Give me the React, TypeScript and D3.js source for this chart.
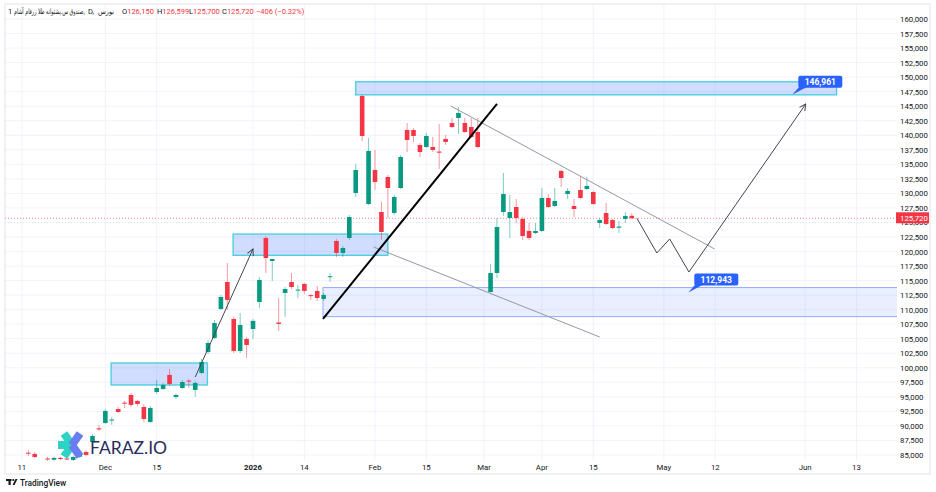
import React, { useEffect, useRef } from "react";
import * as d3 from "d3";

const W = 936;
const H = 492;

// daily bars: [open, high, low, close], null = no trading
const ohlc: ([number, number, number, number] | null)[] = [
  [85400, 85870, 84840, 85300],
  [85180, 85520, 84490, 84660],
  null,
  [84400, 84700, 84000, 84300],
  [84200, 84700, 84000, 84500],
  [84500, 84700, 84100, 84300],
  [84400, 84600, 84100, 84250],
  [84150, 84900, 84000, 84660],
  [84700, 85400, 84500, 85200],
  [85520, 85800, 84800, 85010],
  [87240, 88620, 86900, 88280],
  [89600, 90170, 89140, 89400],
  [90510, 92920, 90340, 92580],
  [91000, 91540, 90170, 91100],
  [92920, 93260, 92230, 92400],
  [94000, 94300, 93090, 93900],
  [95330, 95670, 93260, 93610],
  [94300, 94500, 93440, 93780],
  [93260, 93780, 90680, 91200],
  [90680, 93440, 90510, 93090],
  [95840, 97910, 95500, 96530],
  [96360, 97390, 96190, 97050],
  [98770, 99800, 96880, 97220],
  [94980, 95500, 94640, 95330],
  [96530, 97910, 96360, 97560],
  [97800, 98080, 96530, 97650],
  [96190, 97740, 94980, 97390],
  [99110, 101520, 98940, 101000],
  [102720, 104790, 102380, 104270],
  [105130, 108230, 104960, 107710],
  [110120, 112530, 109950, 112180],
  [114760, 118030, 109950, 111670],
  [108400, 108740, 102550, 102900],
  [102900, 109430, 102550, 107370],
  [104960, 105300, 101690, 103930],
  [106680, 108400, 104960, 108060],
  [111320, 115620, 110290, 115110],
  [122330, 122680, 116310, 118890],
  [118380, 118720, 114940, 118720],
  [107800, 112010, 106340, 107550],
  [112870, 113900, 108740, 113560],
  [114760, 116310, 113560, 113900],
  [113300, 114250, 112010, 113450],
  [114420, 114590, 112700, 113220],
  [112500, 112700, 111670, 112350],
  [113220, 114080, 111500, 112010],
  [111840, 112870, 111500, 112530],
  [115600, 116310, 114760, 115750],
  [121820, 122160, 119060, 119750],
  [119750, 120960, 119060, 120610],
  [122330, 126290, 121990, 125940],
  [130070, 135060, 129380, 134030],
  [146760, 146930, 139020, 139880],
  [128180, 139530, 128010, 137300],
  [134030, 137470, 130590, 131960],
  [126800, 128520, 121990, 123360],
  [132820, 133170, 125770, 130930],
  [126640, 129730, 126290, 129380],
  [130930, 136610, 130760, 136260],
  [140910, 142110, 137120, 139190],
  [140910, 141250, 138840, 139880],
  [138330, 138670, 136260, 137120],
  [137980, 140390, 137810, 139880],
  [137980, 139700, 137120, 137470],
  [137200, 141940, 134200, 137000],
  [139360, 140050, 138330, 138840],
  [142110, 142970, 141250, 141420],
  [142970, 144860, 140220, 143830],
  [142110, 142970, 140390, 140560],
  [141420, 142970, 139530, 139700],
  [140560, 142970, 137810, 137980],
  null,
  [113040, 117860, 112943, 116310],
  [116310, 125770, 115450, 124220],
  [126800, 133510, 126120, 129900],
  [125770, 129730, 122330, 126800],
  [127660, 129040, 124910, 125770],
  [125600, 125940, 121990, 122680],
  [123540, 124910, 121990, 122330],
  [123190, 124910, 123020, 123540],
  [123540, 130930, 123360, 129210],
  [129210, 129900, 127490, 127660],
  [127840, 130930, 127660, 128700],
  [133860, 134030, 131100, 132650],
  [129900, 130930, 129040, 130420],
  [127840, 129040, 125940, 127320],
  [130590, 133000, 129040, 129210],
  [130760, 132820, 130590, 131280],
  [130240, 130420, 128010, 128180],
  [124910, 125770, 124050, 125430],
  [126630, 128350, 124570, 124740],
  [125430, 125600, 123880, 124050],
  [124100, 125260, 123190, 124300],
  [125600, 126800, 124910, 126126],
  [126150, 126599, 125700, 125720],
];

const priceTicks = [
  85000, 87500, 90000, 92500, 95000, 97500, 100000, 102500, 105000, 107500,
  110000, 112500, 115000, 117500, 120000, 122500, 125000, 127500, 130000,
  132500, 135000, 137500, 140000, 142500, 145000, 147500, 150000, 152500,
  155000, 157500, 160000,
];

const timeLabels = ["11", "Dec", "15", "2026", "14", "Feb", "15", "Mar", "Apr", "15", "May", "12", "Jun", "13"];
const timeBars = [-1, 12, 20, 35, 43, 54, 62, 71, 80, 88, 99, 107, 121, 129];

const lastPrice = 125720;
const symbolName = "صندوق س.پشتوانه طلا زرفام آشام,";
const exchange = "بورس";

// drawings in (bar, price)
const zones = [
  { b0: 51, b1: 125.9, top: 149200, bottom: 146961, kind: "cyan" },
  { b0: 31.9, b1: 56, top: 123000, bottom: 119350, kind: "cyan" },
  { b0: 12.9, b1: 27.9, top: 100830, bottom: 97050, kind: "cyan" },
  { b0: 45.9, b1: 140, top: 113800, bottom: 108800, kind: "blue" },
];
const trendLine = [[45.9, 108400], [73, 145380]];
const grayLines = [
  [[65.8, 145040], [106.9, 120440]],
  [[53.8, 120780], [89, 105300]],
];
const leftArrow = [[26, 98420], [35, 120440]];
const pathArrow = [[94.8, 125720], [97.9, 119750], [99.9, 122160], [102.9, 116480], [121.1, 145380]];
const callouts = [
  { bar: 119, price: 146961 },
  { bar: 102.8, price: 112943 },
];

const UP = "#089981";
const DOWN = "#F23645";

const App = () => {
  const ref = useRef<SVGSVGElement>(null);

  useEffect(() => {
    const svg = d3.select(ref.current);
    svg.selectAll("*").remove();

    const paneL = 5, paneR = 897, paneT = 4, paneB = 461;
    const x = d3.scaleLinear().domain([0, 94]).range([28.3, 631.8]);
    const y = d3.scaleLinear().domain([85000, 160000]).range([455, 19]);
    const fmt = d3.format(",");

    svg.append("rect").attr("width", W).attr("height", H).attr("fill", "#fff");

    const defs = svg.append("defs");
    defs.append("clipPath").attr("id", "pane")
      .append("rect").attr("x", paneL).attr("y", paneT)
      .attr("width", paneR - paneL).attr("height", paneB - paneT);
    defs.append("marker").attr("id", "arr").attr("viewBox", "0 0 10 10")
      .attr("refX", 9).attr("refY", 5).attr("markerWidth", 8).attr("markerHeight", 8)
      .attr("orient", "auto-start-reverse").attr("markerUnits", "userSpaceOnUse")
      .append("path").attr("d", "M1,1 L9,5 L1,9").attr("fill", "none")
      .attr("stroke", "#434651").attr("stroke-width", 1.2);

    // grid
    svg.append("g").selectAll("line").data(priceTicks).join("line")
      .attr("x1", paneL).attr("x2", paneR)
      .attr("y1", (d) => y(d)).attr("y2", (d) => y(d))
      .attr("stroke", "#f0f3fa").attr("stroke-width", 1);
    svg.append("g").selectAll("line").data(timeBars).join("line")
      .attr("x1", (d) => x(d)).attr("x2", (d) => x(d))
      .attr("y1", paneT).attr("y2", paneB)
      .attr("stroke", "#f0f3fa").attr("stroke-width", 1);

    // frame
    svg.append("rect").attr("x", paneL).attr("y", paneT)
      .attr("width", 930 - paneL).attr("height", 474 - paneT)
      .attr("fill", "none").attr("stroke", "#e0e3eb");

    const pane = svg.append("g").attr("clip-path", "url(#pane)");

    // zones
    pane.selectAll("rect.zone").data(zones).join("rect").attr("class", "zone")
      .attr("x", (d) => x(d.b0)).attr("y", (d) => y(d.top))
      .attr("width", (d) => x(d.b1) - x(d.b0))
      .attr("height", (d) => y(d.bottom) - y(d.top))
      .attr("fill", (d) => (d.kind === "cyan" ? "rgba(41,98,255,0.22)" : "rgba(41,98,255,0.1)"))
      .attr("stroke", (d) => (d.kind === "cyan" ? "#4dd0e1" : "#94aaf5"))
      .attr("stroke-width", (d) => (d.kind === "cyan" ? 1.4 : 1));

    // last price line
    pane.append("line").attr("x1", paneL).attr("x2", paneR)
      .attr("y1", y(lastPrice)).attr("y2", y(lastPrice))
      .attr("stroke", DOWN).attr("stroke-opacity", 0.6)
      .attr("stroke-dasharray", "1,2");

    // candles
    const bars = ohlc.map((d, i) => ({ d, i })).filter((b) => b.d !== null) as { d: [number, number, number, number]; i: number }[];
    const cg = pane.append("g");
    cg.selectAll("line").data(bars).join("line")
      .attr("x1", (b) => x(b.i)).attr("x2", (b) => x(b.i))
      .attr("y1", (b) => y(b.d[1])).attr("y2", (b) => y(b.d[2]))
      .attr("stroke", (b) => (b.d[3] >= b.d[0] ? UP : DOWN))
      .attr("stroke-opacity", 0.5).attr("stroke-width", 1);
    cg.selectAll("rect").data(bars).join("rect")
      .attr("x", (b) => x(b.i) - 2.3).attr("width", 4.6)
      .attr("y", (b) => y(Math.max(b.d[0], b.d[3])))
      .attr("height", (b) => Math.max(1, Math.abs(y(b.d[0]) - y(b.d[3]))))
      .attr("fill", (b) => (b.d[3] >= b.d[0] ? UP : DOWN));

    // drawings
    const ln = d3.line<number[]>().x((p) => x(p[0])).y((p) => y(p[1]));
    grayLines.forEach((g) => {
      pane.append("path").attr("d", ln(g)).attr("fill", "none")
        .attr("stroke", "#9598a1").attr("stroke-width", 1);
    });
    pane.append("path").attr("d", ln(trendLine)).attr("fill", "none")
      .attr("stroke", "#000").attr("stroke-width", 2);
    pane.append("path").attr("d", ln(leftArrow)).attr("fill", "none")
      .attr("stroke", "#434651").attr("stroke-width", 1).attr("marker-end", "url(#arr)");
    pane.append("path").attr("d", ln(pathArrow)).attr("fill", "none")
      .attr("stroke", "#434651").attr("stroke-width", 1).attr("marker-end", "url(#arr)");

    callouts.forEach((c) => {
      const tx = x(c.bar), ty = y(c.price);
      const g = svg.append("g");
      g.append("path")
        .attr("d", `M${tx},${ty} L${tx + 7},${ty - 8} L${tx + 15},${ty - 8} Z`)
        .attr("fill", "#2962FF");
      g.append("rect").attr("x", tx + 6).attr("y", ty - 19)
        .attr("width", 44).attr("height", 12).attr("rx", 2).attr("fill", "#2962FF");
      g.append("text").attr("x", tx + 28).attr("y", ty - 10)
        .attr("text-anchor", "middle").attr("fill", "#fff")
        .attr("font-family", "Roboto, sans-serif").attr("font-size", 8.5)
        .attr("font-weight", 700).text(fmt(c.price));
    });

    // price axis
    svg.append("g").selectAll("text").data(priceTicks).join("text")
      .attr("x", 900).attr("y", (d) => y(d) + 3)
      .attr("fill", "#131722").attr("font-family", "Roboto, sans-serif")
      .attr("font-size", 7.8).text((d) => fmt(d));
    svg.append("rect").attr("x", 896).attr("y", y(lastPrice) - 6)
      .attr("width", 33).attr("height", 11).attr("fill", DOWN);
    svg.append("text").attr("x", 900).attr("y", y(lastPrice) + 3)
      .attr("fill", "#fff").attr("font-family", "Roboto, sans-serif")
      .attr("font-size", 7.8).text(fmt(lastPrice));

    // time axis
    svg.append("g").selectAll("text").data(timeLabels).join("text")
      .attr("x", (d, i) => x(timeBars[i])).attr("y", 470)
      .attr("text-anchor", "middle").attr("fill", "#131722")
      .attr("font-family", "Roboto, sans-serif").attr("font-size", 7.8)
      .attr("font-weight", (d) => (d === "2026" ? 700 : 400)).text((d) => d);

    // header: symbol, interval, exchange, OHLC
    const hdr = svg.append("g").attr("font-size", 7.5).attr("fill", "#131722");
    hdr.append("text").attr("x", 8).attr("y", 14).attr("font-family", "Roboto, sans-serif").text("1");
    hdr.append("text").attr("x", 14).attr("y", 14).attr("font-family", "'DejaVu Sans', sans-serif")
      .attr("direction", "ltr").attr("textLength", 71).attr("lengthAdjust", "spacingAndGlyphs")
      .text(symbolName);
    hdr.append("text").attr("x", 88).attr("y", 14).attr("font-family", "Roboto, sans-serif").text("D,");
    hdr.append("text").attr("x", 98).attr("y", 14).attr("font-family", "'DejaVu Sans', sans-serif")
      .attr("textLength", 16).attr("lengthAdjust", "spacingAndGlyphs").text(exchange);
    const ohlcHdr = [["O", "126,150", 122], ["H", "126,599", 157], ["L", "125,700", 189], ["C", "125,720", 222]];
    ohlcHdr.forEach(([k, v, px]) => {
      const t = hdr.append("text").attr("x", px as number).attr("y", 14).attr("font-family", "Roboto, sans-serif");
      t.append("tspan").attr("fill", "#131722").text(k as string);
      t.append("tspan").attr("fill", DOWN).text(v as string);
    });
    hdr.append("text").attr("x", 256).attr("y", 14).attr("fill", DOWN)
      .attr("font-family", "Roboto, sans-serif").text("−406 (−0.32%)");

    // watermark logo
    const lg = svg.append("g");
    const cx = 72, cy = 445, r = 14;
    const arms: [number, string][] = [[180, "#2dd4c4"], [-125, "#2dd4c4"], [125, "#2dd4c4"], [-55, "#6a7cf2"], [55, "#6a7cf2"]];
    arms.forEach(([a, col]) => {
      const rad = (a * Math.PI) / 180;
      lg.append("line").attr("x1", cx).attr("y1", cy)
        .attr("x2", cx + r * Math.cos(rad)).attr("y2", cy + r * Math.sin(rad))
        .attr("stroke", col).attr("stroke-width", 8).attr("stroke-linecap", "butt");
    });
    lg.append("text").attr("x", 90).attr("y", 454).attr("fill", "#2b2d5c")
      .attr("font-family", "Lato, sans-serif").attr("font-size", 17.5).text("FARAZ.IO");

    // tradingview mark
    const tv = svg.append("g").attr("fill", "#131722");
    tv.append("rect").attr("x", 6).attr("y", 479).attr("width", 5.5).attr("height", 2);
    tv.append("rect").attr("x", 8.5).attr("y", 479).attr("width", 2.2).attr("height", 6);
    tv.append("circle").attr("cx", 13.3).attr("cy", 480).attr("r", 1.1);
    tv.append("path").attr("d", "M12.5,485 L15.5,479 L17.5,479 L14.5,485 Z");
    tv.append("text").attr("x", 20).attr("y", 485.5).attr("font-family", "Roboto, sans-serif")
      .attr("font-size", 8.3).attr("font-weight", 500).text("TradingView");
  }, []);

  return <svg ref={ref} width={W} height={H} style={{ position: "absolute", left: 0, top: 0 }} />;
};

export default App;
